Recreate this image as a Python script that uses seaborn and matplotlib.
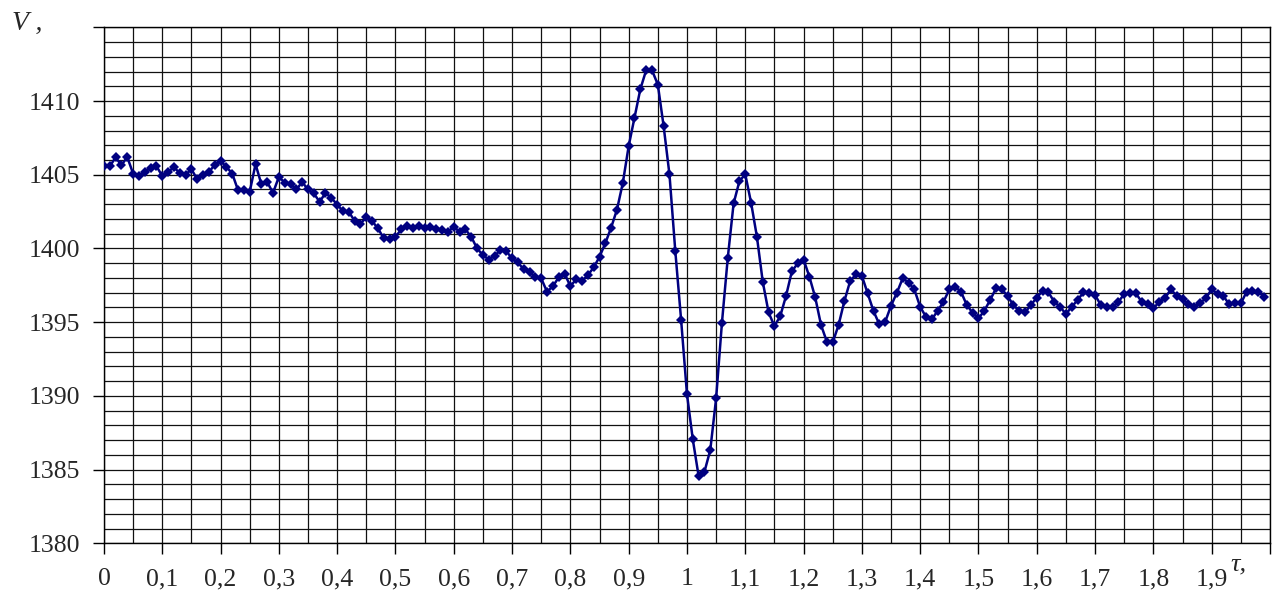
import numpy as np
import pandas as pd
import seaborn as sns
import matplotlib.pyplot as plt
from matplotlib.ticker import FixedLocator, MultipleLocator

tau = np.arange(200) / 100
v = [
    1405.60, 1405.58, 1406.17, 1405.65, 1406.20, 1405.08, 1404.90, 1405.20, 1405.47, 1405.58,
    1404.92, 1405.20, 1405.50, 1405.12, 1405.00, 1405.37, 1404.70, 1404.97, 1405.20, 1405.65,
    1405.94, 1405.53, 1405.08, 1403.95, 1403.95, 1403.84, 1405.72, 1404.36, 1404.50, 1403.77,
    1404.85, 1404.47, 1404.36, 1404.00, 1404.50, 1404.00, 1403.73, 1403.16, 1403.77, 1403.43,
    1402.98, 1402.53, 1402.48, 1401.87, 1401.69, 1402.10, 1401.85, 1401.36, 1400.68, 1400.63,
    1400.79, 1401.29, 1401.52, 1401.40, 1401.53, 1401.36, 1401.47, 1401.31, 1401.24, 1401.13,
    1401.47, 1401.13, 1401.29, 1400.79, 1400.00, 1399.55, 1399.25, 1399.50, 1399.88, 1399.82,
    1399.32, 1399.05, 1398.58, 1398.37, 1398.08, 1397.97, 1397.06, 1397.44, 1398.03, 1398.30,
    1397.44, 1397.90, 1397.80, 1398.19, 1398.71, 1399.43, 1400.36, 1401.42, 1402.64, 1404.45,
    1406.94, 1408.88, 1410.80, 1412.09, 1412.09, 1411.12, 1408.29, 1405.02, 1399.82, 1395.14,
    1390.12, 1387.05, 1384.56, 1384.85, 1386.33, 1389.83, 1394.96, 1399.36, 1403.05, 1404.57,
    1405.03, 1403.10, 1400.79, 1397.74, 1395.66, 1394.73, 1395.41, 1396.79, 1398.46, 1398.98,
    1399.25, 1398.08, 1396.68, 1394.80, 1393.67, 1393.63, 1394.80, 1396.43, 1397.80, 1398.24,
    1398.14, 1396.95, 1395.75, 1394.85, 1395.02, 1396.11, 1396.99, 1397.97, 1397.69, 1397.22,
    1396.04, 1395.36, 1395.19, 1395.77, 1396.38, 1397.22, 1397.40, 1397.06, 1396.16, 1395.64,
    1395.25, 1395.77, 1396.50, 1397.29, 1397.26, 1396.75, 1396.16, 1395.75, 1395.66, 1396.18,
    1396.65, 1397.13, 1397.02, 1396.38, 1396.04, 1395.55, 1396.04, 1396.50, 1397.02, 1396.95,
    1396.83, 1396.16, 1396.00, 1396.00, 1396.38, 1396.90, 1396.95, 1396.95, 1396.38, 1396.22,
    1395.93, 1396.38, 1396.65, 1397.22, 1396.79, 1396.54, 1396.22, 1396.04, 1396.31, 1396.61,
    1397.24, 1396.90, 1396.77, 1396.22, 1396.27, 1396.27, 1397.06, 1397.13, 1397.06, 1396.72,
]

x_ticks = np.arange(21) / 10
x_labels = ["0", "0,1", "0,2", "0,3", "0,4", "0,5", "0,6", "0,7", "0,8", "0,9", "1",
            "1,1", "1,2", "1,3", "1,4", "1,5", "1,6", "1,7", "1,8", "1,9", ""]
y_ticks = [1380, 1385, 1390, 1395, 1400, 1405, 1410, 1415]
y_labels = ["1380", "1385", "1390", "1395", "1400", "1405", "1410", ""]

df = pd.DataFrame({"tau": tau, "V": v})

sns.set_style("white")
plt.rcParams['font.family'] = ['Liberation Serif', 'DejaVu Serif']

fig = plt.figure(figsize=(12.77, 5.99), dpi=100)
ax = fig.add_axes([0.0814, 0.093, 0.9131, 0.8614])

sns.lineplot(data=df, x="tau", y="V", ax=ax, color="#000080", lw=1.8,
             marker="D", markersize=5, markeredgewidth=0, zorder=3)

ax.set_xlim(0, 2.0)
ax.set_ylim(1380, 1415)
ax.xaxis.set_major_locator(FixedLocator(x_ticks))
ax.set_xticklabels(x_labels)
ax.xaxis.set_minor_locator(MultipleLocator(0.05))
ax.yaxis.set_major_locator(FixedLocator(y_ticks))
ax.set_yticklabels(y_labels)
ax.yaxis.set_minor_locator(MultipleLocator(1))

ax.grid(which="both", color="#111111", lw=0.9)
ax.tick_params(which="major", direction="out", length=8, width=1, color="black",
               labelsize=18.5, bottom=True, left=True)
ax.tick_params(axis="x", pad=10)
ax.tick_params(axis="y", pad=9)
ax.tick_params(which="minor", length=0)
for s in ax.spines.values():
    s.set_color("black")
    s.set_linewidth(1)

ax.set_xlabel("")
ax.set_ylabel("")

fig.text(12 / 1277, 1 - 30 / 599, "V ,", fontsize=20, style="italic",
         va="baseline", ha="left")
fig.text(1230 / 1277, 1 - 570 / 599, "τ,", fontsize=19, style="italic",
         va="baseline", ha="left")

fig.savefig("out.png", dpi=100)
